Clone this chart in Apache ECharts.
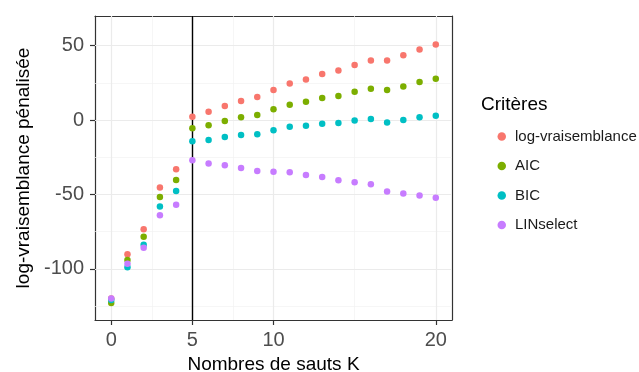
<!DOCTYPE html>
<html>
<head>
<meta charset="utf-8">
<script src="https://cdn.jsdelivr.net/npm/echarts@6/dist/echarts.min.js"></script>
<style>
  html, body { margin: 0; padding: 0; background: #fff; }
  #chart { width: 639px; height: 372px; }
</style>
</head>
<body>
<div id="chart"></div>
<script>
// Number of jumps K
const kValues = [0,1,2,3,4,5,6,7,8,9,10,11,12,13,14,15,16,17,18,19,20];

// Penalised log-likelihood for each criterion
const logVraisemblance = [-120,-90.2,-73.4,-45.4,-33.1,2.2,5.6,9.4,12.8,15.4,20.1,24.6,27.3,30.9,33.3,36.9,40.0,40.0,43.6,47.4,50.8];
const aicValues = [-123,-94,-78.5,-51.7,-40.3,-5.6,-3.6,-0.7,1.8,3.4,7.2,10.3,12.3,14.8,16.1,19.0,21.0,20.1,22.6,25.5,27.7];
const bicValues = [-121,-98.9,-83.9,-58.2,-47.7,-14.3,-13.4,-11.4,-10.1,-9.6,-6.9,-4.5,-3.8,-2.5,-2.0,-0.4,0.7,-1.6,0.0,1.8,2.9];
const linselectValues = [-120,-96.6,-85.9,-64,-57,-27.1,-29.3,-30.4,-32.2,-34.2,-34.7,-35.1,-36.9,-38.3,-40.5,-41.8,-43.2,-48.1,-49.4,-50.8,-52.3];

const seriesNames = ['log-vraisemblance', 'AIC', 'BIC', 'LINselect'];
const seriesColors = ['#F8766D', '#7CAE00', '#00BFC4', '#C77CFF'];

// Axis breaks and gridlines
const xTicks = [0, 5, 10, 20];
const xMinorGrid = [2.5, 7.5, 15];
const yTicks = [-100, -50, 0, 50];
const yMinorGrid = [-125, -75, -25, 25];
const selectedK = 5;

const X_MIN = -1, X_MAX = 21;
const Y_MIN = -134.4, Y_MAX = 69.9;

const FONT = '"Liberation Sans", Arial, Helvetica, sans-serif';
const BORDER = { color: '#333333', width: 1.2 };

const chart = echarts.init(document.getElementById('chart'), null, { renderer: 'canvas' });

function pts(vals) { return kValues.map((k, i) => [k, vals[i]]); }

const gridLines = [];
xMinorGrid.forEach(v => gridLines.push({ xAxis: v, lineStyle: { color: '#F2F2F2', width: 0.7, type: 'solid' } }));
yMinorGrid.forEach(v => gridLines.push({ yAxis: v, lineStyle: { color: '#F2F2F2', width: 0.7, type: 'solid' } }));
xTicks.forEach(v => gridLines.push({ xAxis: v, lineStyle: { color: '#EBEBEB', width: 1.2, type: 'solid' } }));
yTicks.forEach(v => gridLines.push({ yAxis: v, lineStyle: { color: '#EBEBEB', width: 1.2, type: 'solid' } }));

const allSeries = [
  {
    name: '__grid',
    type: 'line',
    data: [],
    silent: true,
    z: 1,
    markLine: { z: 1, silent: true, symbol: 'none', label: { show: false }, animation: false, data: gridLines }
  },
  {
    name: '__selected',
    type: 'line',
    data: [],
    silent: true,
    z: 2,
    markLine: {
      z: 2, silent: true, symbol: 'none', label: { show: false }, animation: false,
      data: [{ xAxis: selectedK, lineStyle: { color: '#000', width: 1.4, type: 'solid' } }]
    }
  }
];
[logVraisemblance, aicValues, bicValues, linselectValues].forEach((vals, i) => {
  allSeries.push({
    name: seriesNames[i],
    type: 'scatter',
    data: pts(vals),
    symbol: 'circle',
    symbolSize: 6.5,
    itemStyle: { color: seriesColors[i], opacity: 1 },
    z: 10 + i
  });
});

// Frame-only axes used for the top and right edges of the panel
const frameX = {
  type: 'value', min: X_MIN, max: X_MAX, position: 'top',
  axisLine: { show: true, lineStyle: BORDER, onZero: false },
  axisTick: { show: false }, axisLabel: { show: false }, splitLine: { show: false }
};
const frameY = {
  type: 'value', min: Y_MIN, max: Y_MAX, position: 'right',
  axisLine: { show: true, lineStyle: BORDER, onZero: false },
  axisTick: { show: false }, axisLabel: { show: false }, splitLine: { show: false }
};

chart.setOption({
  animation: false,
  backgroundColor: '#fff',
  grid: {
    left: 95, right: 187, top: 16, bottom: 52,
    outerBoundsMode: 'none', containLabel: false,
    show: false
  },
  xAxis: [{
    type: 'value', min: X_MIN, max: X_MAX, position: 'bottom',
    name: 'Nombres de sauts K', nameLocation: 'middle', nameGap: 29,
    nameTextStyle: { fontFamily: FONT, fontSize: 19, color: '#000' },
    axisLine: { show: true, lineStyle: BORDER, onZero: false },
    axisTick: { show: true, length: 5, customValues: xTicks, lineStyle: { color: '#333', width: 1.2 } },
    axisLabel: { customValues: xTicks, fontFamily: FONT, fontSize: 20, color: '#4D4D4D', margin: 10 },
    splitLine: { show: false }
  }, frameX],
  yAxis: [{
    type: 'value', min: Y_MIN, max: Y_MAX, position: 'left',
    name: 'log-vraisemblance pénalisée', nameLocation: 'middle', nameGap: 61, nameRotate: 90,
    nameTextStyle: { fontFamily: FONT, fontSize: 19, color: '#000' },
    axisLine: { show: true, lineStyle: BORDER, onZero: false },
    axisTick: { show: true, length: 5, customValues: yTicks, lineStyle: { color: '#333', width: 1.2 } },
    axisLabel: { customValues: yTicks, fontFamily: FONT, fontSize: 20, color: '#4D4D4D', margin: 11 },
    splitLine: { show: false }
  }, frameY],
  legend: {
    data: seriesNames,
    orient: 'vertical',
    left: 492.5, top: 124,
    icon: 'circle',
    itemWidth: 8.5, itemHeight: 8.5,
    itemGap: 14.5,
    textStyle: { fontFamily: FONT, fontSize: 15, lineHeight: 15, color: '#1A1A1A', padding: [0, 0, 0, 4] }
  },
  graphic: [{
    type: 'text', left: 481, top: 95,
    style: { text: 'Critères', fontFamily: FONT, fontSize: 19, fill: '#000' }
  }],
  series: allSeries
});
</script>
</body>
</html>
